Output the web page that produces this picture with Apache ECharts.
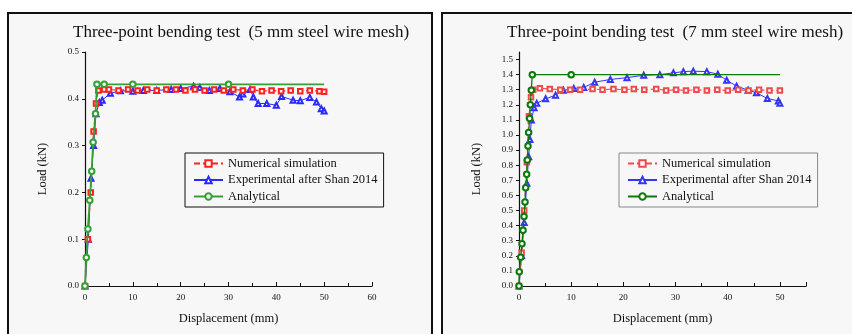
<!DOCTYPE html>
<html>
<head>
<meta charset="utf-8">
<script src="https://cdn.jsdelivr.net/npm/echarts@6/dist/echarts.min.js"></script>
<style>
  html, body { margin: 0; padding: 0; background: #fff; overflow: hidden; }
  #wrap { position: relative; width: 852px; height: 334px; overflow: hidden; }
  .panel { position: absolute; top: 12px; height: 330px; border: 2px solid #111; background: #f7f7f7; }
  #p5 { left: 7px; width: 422px; }
  #p7 { left: 441px; width: 420px; }
</style>
</head>
<body>
<div id="wrap">
  <div class="panel" id="p5"></div>
  <div class="panel" id="p7"></div>
</div>
<script>
// 5 mm steel wire mesh
var num5 = [[0,0],[0.6,0.1],[1.2,0.2],[1.8,0.33],[2.3,0.39],[2.8,0.418],[4,0.42],[5,0.42],[7,0.418],[9,0.42],[11,0.418],[13,0.42],[15,0.418],[17,0.42],[19,0.42],[21,0.418],[23,0.42],[25,0.418],[27,0.42],[29,0.418],[31,0.42],[33,0.418],[35,0.42],[37,0.416],[39,0.418],[41,0.416],[43,0.418],[45,0.416],[47,0.418],[49,0.416],[50,0.415]];
var exp5 = [[0,0],[0.7,0.1],[1.25,0.23],[1.8,0.3],[2.3,0.368],[3.0,0.392],[3.6,0.397],[5.3,0.412],[7.4,0.417],[10,0.416],[12.2,0.418],[15,0.418],[18,0.42],[20,0.422],[22.7,0.427],[24,0.424],[26,0.418],[28.2,0.422],[30.3,0.415],[32.3,0.404],[33,0.41],[34.5,0.42],[35.2,0.404],[36.2,0.39],[38,0.39],[40,0.386],[41.1,0.405],[43.5,0.397],[45,0.396],[47,0.403],[48.4,0.393],[49.4,0.379],[50,0.374]];
var ana5 = [[0,0],[0.28,0.061],[0.6,0.122],[1.0,0.183],[1.4,0.245],[1.7,0.307],[2.2,0.368],[2.5,0.431],[4,0.431],[10,0.431],[30,0.431],[50,0.431]];

// 7 mm steel wire mesh
var num7 = [[0,0],[0.5,0.22],[1.0,0.5],[1.5,0.82],[1.9,1.125],[2.3,1.25],[2.7,1.30],[4,1.31],[5.9,1.305],[7.9,1.30],[9.8,1.30],[11.7,1.30],[14.1,1.305],[16,1.30],[18.1,1.305],[20.2,1.30],[22,1.305],[24,1.30],[26.3,1.305],[28.2,1.295],[30.1,1.30],[32,1.295],[34,1.30],[36,1.295],[38,1.30],[40,1.295],[42,1.30],[44,1.295],[46,1.30],[48,1.295],[50,1.295]];
var exp7 = [[0,0],[0.5,0.2],[1.0,0.42],[1.5,0.68],[1.85,0.856],[2.1,0.97],[2.36,1.1],[2.9,1.18],[3.4,1.21],[5.1,1.24],[7,1.264],[8.5,1.297],[10.5,1.308],[12.4,1.315],[14.5,1.35],[17.5,1.368],[20.7,1.38],[23.9,1.396],[27,1.40],[29.6,1.412],[31.5,1.42],[33.4,1.423],[36,1.42],[38.1,1.403],[39.8,1.363],[41.7,1.324],[43.9,1.297],[45.5,1.28],[47.6,1.242],[49.7,1.226],[50,1.21]];
var ana7 = [[0,0],[0.05,0.095],[0.32,0.19],[0.57,0.28],[0.77,0.37],[0.96,0.46],[1.15,0.556],[1.28,0.65],[1.47,0.74],[1.6,0.834],[1.72,0.927],[1.85,1.017],[2.04,1.11],[2.17,1.2],[2.36,1.297],[2.55,1.40],[10,1.40],[50,1.40]];

var names = ['Numerical simulation', 'Experimental after Shan 2014', 'Analytical'];
var serif = '"Liberation Serif", "DejaVu Serif", serif';

// last analytical point has no marker
function noEndMark(arr) {
  return arr.map(function (p, i) {
    return i === arr.length - 1 ? { value: p, symbol: 'none' } : p;
  });
}

function makeOption(cfg) {
  return {
    animation: false,
    title: {
      text: cfg.title,
      left: 64, top: 10, padding: 0,
      textStyle: { fontFamily: serif, fontSize: 17, fontWeight: 'normal', color: '#111' }
    },
    legend: {
      data: names,
      orient: 'vertical',
      left: 176, top: 139,
      padding: [4, 6, 4, 8],
      itemWidth: 29, itemHeight: 8, itemGap: 3.5,
      borderColor: cfg.legendBorder, borderWidth: 1,
      textStyle: { fontFamily: serif, fontSize: 12.5, color: '#111' }
    },
    grid: { left: 76, top: 38, width: 287, height: 234 },
    xAxis: {
      type: 'value', min: 0, max: cfg.xMax, interval: 10,
      name: 'Displacement (mm)', nameLocation: 'middle', nameGap: 26,
      nameTextStyle: { fontFamily: serif, fontSize: 12.5, color: '#111' },
      axisLine: { lineStyle: { color: '#111', width: 1.2 } },
      axisTick: { inside: true, length: 4, lineStyle: { color: '#111' } },
      minorTick: { show: true, splitNumber: 2, length: 3, lineStyle: { color: '#111' } },
      axisLabel: { fontFamily: serif, fontSize: 9, color: '#111', margin: 7, showMaxLabel: cfg.xMax === 60 },
      splitLine: { show: false }
    },
    yAxis: {
      type: 'value', min: 0, max: cfg.yMax, interval: cfg.yStep,
      name: 'Load (kN)', nameLocation: 'middle', nameGap: 36,
      nameTextStyle: { fontFamily: serif, fontSize: 12.5, color: '#111' },
      axisLine: { show: true, lineStyle: { color: '#111', width: 1.2 } },
      axisTick: { show: true, length: 3, lineStyle: { color: '#111' } },
      axisLabel: {
        fontFamily: serif, fontSize: 9, color: '#111', margin: 6,
        showMaxLabel: cfg.yMax === 0.5,
        formatter: function (v) { return v.toFixed(1); }
      },
      splitLine: { show: false }
    },
    series: [
      {
        name: names[0], type: 'line', data: cfg.num,
        symbol: 'emptyRect', symbolSize: 4.5, z: 3,
        itemStyle: { color: cfg.red, borderWidth: 0.8 },
        lineStyle: { color: cfg.red, width: 1.1, type: [6, 3] }
      },
      {
        name: names[1], type: 'line', data: cfg.exp,
        symbol: 'emptyTriangle', symbolSize: 5, z: 2,
        itemStyle: { color: cfg.blue, borderWidth: 0.8 },
        lineStyle: { color: cfg.blue, width: 1 }
      },
      {
        name: names[2], type: 'line', data: noEndMark(cfg.ana),
        symbol: 'emptyCircle', symbolSize: 5.5, z: 4,
        itemStyle: { color: cfg.green, borderWidth: 0.9 },
        lineStyle: { color: cfg.green, width: cfg.greenWidth }
      }
    ]
  };
}

var chart5 = echarts.init(document.getElementById('p5'));
chart5.setOption(makeOption({
  title: 'Three-point bending test  (5 mm steel wire mesh)',
  xMax: 60, yMax: 0.5, yStep: 0.1,
  num: num5, exp: exp5, ana: ana5,
  red: '#ff2020', blue: '#2a2aff', green: '#35a035', greenWidth: 1.8,
  legendBorder: '#111'
}));

var chart7 = echarts.init(document.getElementById('p7'));
chart7.setOption(makeOption({
  title: 'Three-point bending test  (7 mm steel wire mesh)',
  xMax: 55, yMax: 1.55, yStep: 0.1,
  num: num7, exp: exp7, ana: ana7,
  red: '#f04a4a', blue: '#3535f5', green: '#0b7a0b', greenWidth: 1.3,
  legendBorder: '#888'
}));
</script>
</body>
</html>
